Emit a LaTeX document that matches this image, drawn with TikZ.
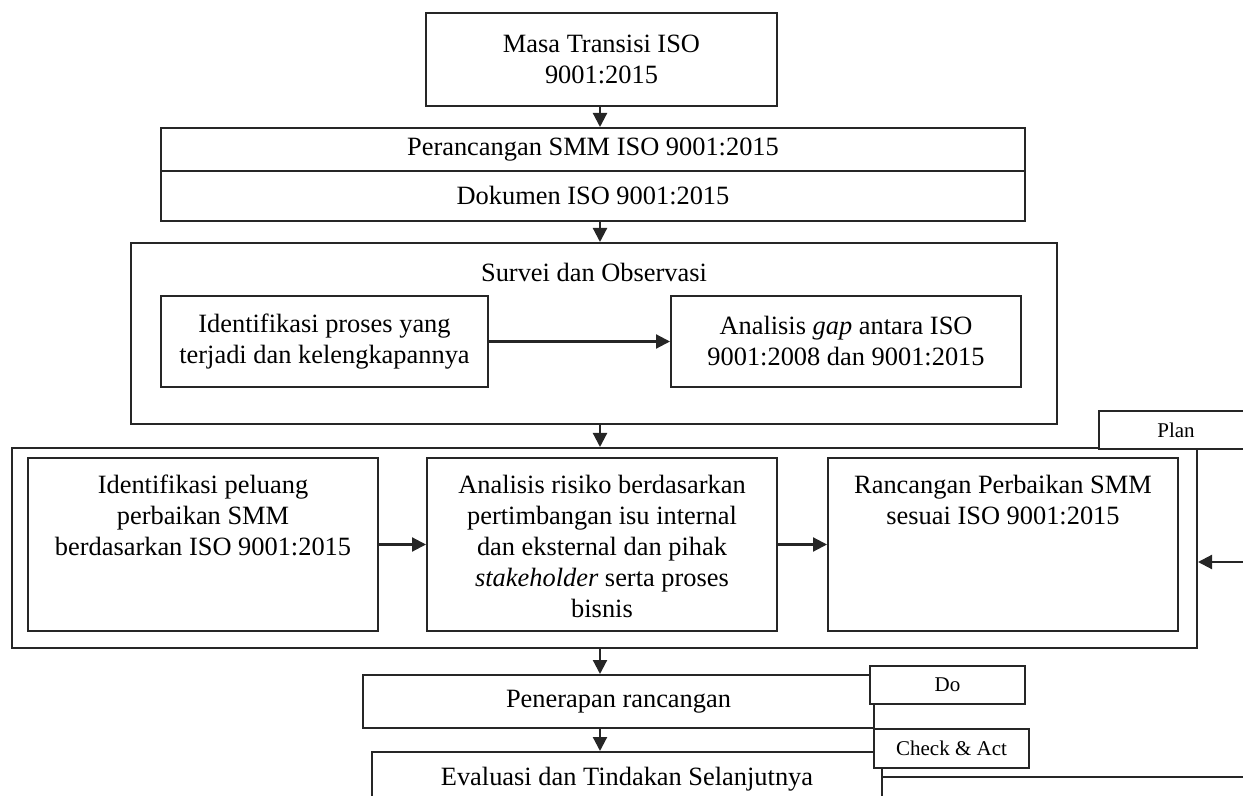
\documentclass[tikz,border=0pt]{standalone}
\usepackage{fontspec}
\setmainfont{Liberation Serif}
\usetikzlibrary{arrows.meta,positioning,calc}

\tikzset{
  box/.style={draw=black!85, line width=1pt, inner sep=0pt, align=center},
  tagbox/.style={box, fill=white, font=\fontsize{10.5}{12}\selectfont},
  txt/.style={inner sep=0pt, align=center},
  arr/.style={draw=black!85, line width=1.1pt, -{Triangle[length=7pt,width=7pt]}},
  line/.style={draw=black!85, line width=1pt},
}

\begin{document}
\begin{tikzpicture}[x=0.5pt, y=-0.5pt, font=\fontsize{13.2}{15.5}\selectfont]
  %%%%% START %%%%%
  \useasboundingbox (0,0) rectangle (1243,796);
  \clip (0,0) rectangle (1243,796);
  \coordinate (spine) at (600,0);

  \node[box, minimum width=175.5pt, minimum height=46.5pt] (masa) at (601.5,59.5) {Masa Transisi ISO\\9001:2015};

  \node[box, minimum width=432pt, minimum height=21.5pt] (perancangan) at (593,149.5) {Perancangan SMM ISO 9001:2015};
  \node[box, minimum width=432pt, minimum height=25pt] (dokumen) at (593,196) {Dokumen ISO 9001:2015};

  % survei dan observasi
  \node[box, minimum width=463pt, minimum height=90.5pt] (survei) at (594,333.5) {};
  \node[txt, anchor=base] (survtitle) at (594,282) {Survei dan Observasi};
  \node[box, minimum width=163.5pt, minimum height=45.5pt] (proses) at (324.5,341.5) {Identifikasi proses yang\\terjadi dan kelengkapannya};
  \node[box, minimum width=175pt, minimum height=45.5pt] (gap) at (846,341.5) {Analisis \textit{gap} antara ISO\\9001:2008 dan 9001:2015};

  % plan
  \node[box, minimum width=592.5pt, minimum height=100pt] (bigbox) at (604.5,548) {};
  \node[box, minimum width=175pt, minimum height=86.5pt] (peluang) at (203,544.5) {};
  \node[box, minimum width=175pt, minimum height=86.5pt] (risiko) at (602,544.5) {};
  \node[box, minimum width=175pt, minimum height=86.5pt] (rancangan) at (1003,544.5) {};
  \node[txt, anchor=north] (peluangtxt) at (203,475) {Identifikasi peluang\\perbaikan SMM\\berdasarkan ISO 9001:2015};
  \node[txt, anchor=north] (risikotxt) at (602,475) {Analisis risiko berdasarkan\\pertimbangan isu internal\\dan eksternal dan pihak\\\textit{stakeholder} serta proses\\bisnis};
  \node[txt, anchor=north] (rancangantxt) at (1003,475) {Rancangan Perbaikan SMM\\sesuai ISO 9001:2015};
  \node[tagbox, minimum width=77pt, minimum height=19pt] (plan) at (1176,430) {Plan};

  % do, check & act
  \node[box, minimum width=255.5pt, minimum height=26.5pt] (penerapan) at (618.5,701.5) {Penerapan rancangan};
  \node[tagbox, minimum width=77.5pt, minimum height=19pt] (do) at (947.5,685) {Do};
  \node[box, minimum width=255pt, minimum height=27pt] (evaluasi) at (627,779) {Evaluasi dan Tindakan Selanjutnya};
  \node[tagbox, minimum width=77.5pt, minimum height=19.5pt] (check) at (951.5,748.5) {Check \& Act};

  \coordinate (planin) at (1243,562);
  \coordinate (loopout) at (1243,777);

  \draw[arr] (masa.south -| spine) -- (perancangan.north -| spine);
  \draw[arr] (dokumen.south -| spine) -- (survei.north -| spine);
  \draw[arr] (proses.east) -- (gap.west);
  \draw[arr] (survei.south -| spine) -- (bigbox.north -| spine);
  \draw[arr] (peluang.east) -- (risiko.west);
  \draw[arr] (risiko.east) -- (rancangan.west);
  \draw[arr] (planin) -- (planin -| bigbox.east);
  \draw[arr] (bigbox.south -| spine) -- (penerapan.north -| spine);
  \draw[arr] (penerapan.south -| spine) -- (evaluasi.north -| spine);
  \draw[line] (loopout -| evaluasi.east) -- (loopout);

  %%%%% END %%%%%
\end{tikzpicture}
\end{document}
